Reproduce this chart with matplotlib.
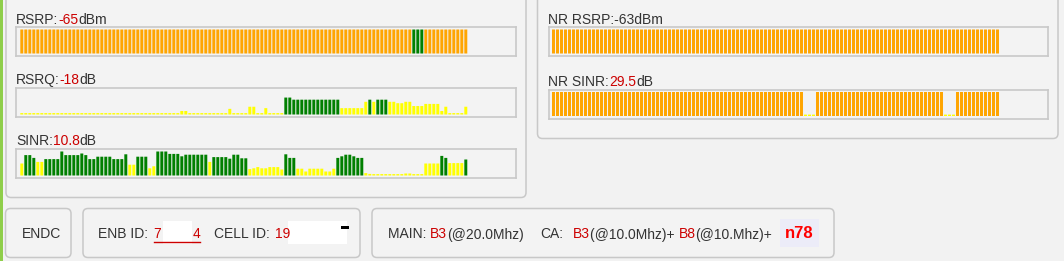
import numpy as np
import matplotlib
matplotlib.use('Agg')
import matplotlib.pyplot as plt
from matplotlib.patches import FancyBboxPatch, Rectangle

plt.rcParams['font.family'] = ['Liberation Sans', 'DejaVu Sans']

# ---- data (one value per sample) ----
RSRP = [-65] * 98 + [-60] * 3 + [-65] * 11
RSRQ = ([-19.5] * 32 + [-19.0] + [-19.5] * 7 + [-17.5] * 2 + [-19.5] * 10 + [-16.0]
        + [-19.5] * 4 + [-14.5] * 2 + [-19.5] * 2 + [-15.5] + [-19.5] * 3 + [-19.0]
        + [-8.0] * 2 + [-9.5] * 12 + [-15.5] * 6 + [-11.0] + [-9.5] + [-11.0]
        + [-9.5] * 3 + [-11.0] * 2 + [-12.0] * 2 + [-11.0] * 2 + [-14.0] * 3
        + [-12.5] * 4 + [-17.5] + [-14.5] + [-19.5] * 4 + [-14.5])
SINR = [15, 25.5, 25.5, 22, 17, 17, 20.5, 20.5, 20.5, 20.5,
        30, 25.5, 25.5, 25.5, 25.5, 27.5, 25.5, 20.5, 20.5, 23.5,
        23.5, 23.5, 23.5, 20.5, 20.5, 20.5, 26.5, 13.5, 13.5, 23.5,
        23.5, 23.5, 9, 11.5, 30, 30, 30, 27, 27, 27,
        24, 26, 26, 26, 26, 26, 26, 17, 23, 23,
        23, 23, 21, 26, 26, 21.5, 21.5, 8, 9, 10.5,
        9, 9, 10.5, 10.5, 10.5, 7.5, 26.5, 22, 22, 8.5,
        8.5, 5, 8.5, 8.5, 8.5, 8.5, 5, 5, 8.5, 22,
        24, 26, 26, 24, 22, 22, 3, 2, 1.2, 1.2,
        1.2, 1.2, 1.2, 1.2, 1.2, 1.2, 2.5, 2.5, 0.5, 0.5,
        0.5, 15, 15, 15, 15, 24.5, 22, 15.5, 15.5, 15.5,
        15.5, 20]
NR_RSRP = [-63] * 112
NR_SINR = [30] * 63 + [0.5] * 3 + [30] * 32 + [0.5] * 3 + [30] * 11

labels = {
    'rsrp': [('RSRP:', 'd'), ('-65', 'r'), ('dBm', 'd')],
    'rsrq': [('RSRQ:', 'd'), ('-18', 'r'), ('dB', 'd')],
    'sinr': [('SINR:', 'd'), ('10.8', 'r'), ('dB', 'd')],
    'nrrsrp': [('NR RSRP:-63dBm', 'd')],
    'nrsinr': [('NR SINR:', 'd'), ('29.5', 'r'), ('dB', 'd')],
}

W, H = 1064, 261
DARK = '#333333'
RED = '#cc0000'
ORANGE = '#ffa500'
GREEN = '#008000'
YELLOW = '#ffff00'
BORDER = '#c8c8c8'
PANEL = '#f3f3f3'
TC = {'d': DARK, 'r': RED}

fig = plt.figure(figsize=(W / 100, H / 100), dpi=100, facecolor='#f2f2f2')
bg = fig.add_axes([0, 0, 1, 1])
bg.set_xlim(0, W)
bg.set_ylim(H, 0)
bg.axis('off')
renderer = fig.canvas.get_renderer()


def panel(x0, y0, x1, y1, fc=PANEL):
    bg.add_patch(FancyBboxPatch((x0, y0), x1 - x0, y1 - y0,
                                boxstyle='round,pad=0,rounding_size=5',
                                fc=fc, ec=BORDER, lw=1.1))


def rich(x, y, parts, size=10, weight='normal'):
    for s, c in parts:
        t = bg.text(x, y, s, color=TC.get(c, c), fontsize=size, fontweight=weight,
                    ha='left', va='baseline')
        x += t.get_window_extent(renderer).width
    return x


def pick(v, rule):
    # rule: list of (threshold, colour), first threshold met wins
    for thr, c in rule:
        if v >= thr:
            return c
    return rule[-1][1]


def bar_box(x0, y0, x1, y1, vals, lo, hi, rule, xmin):
    ax = fig.add_axes([x0 / W, 1 - y1 / H, (x1 - x0) / W, (y1 - y0) / H])
    v = np.asarray(vals, float)
    h = np.clip(v, lo, hi) - lo
    # the web chart always keeps a 1px stub for the lowest samples
    h = np.maximum(h, (hi - lo) * 1.4 / 24)
    cols = [pick(a, rule) for a in v]
    bars = ax.bar(np.arange(len(v)), h, width=0.74, bottom=lo, color=cols, linewidth=0)
    for b in bars:
        b.set_snap(False)
    pad = (hi - lo) * 2.5 / 24
    # one sample slot is 4 px wide
    ax.set_xlim(xmin, xmin + (x1 - x0) / 4.0)
    ax.set_ylim(lo - pad, hi + pad)
    ax.set_facecolor(PANEL)
    ax.set_xticks([])
    ax.set_yticks([])
    for sp in ax.spines.values():
        sp.set_color(BORDER)
        sp.set_linewidth(1.2)
    return ax


# left green stripe
bg.add_patch(Rectangle((0, 0), 2.5, H, fc='#8fce4a', ec='none'))

# top panels
panel(6, -10, 526, 197.5)
panel(537.5, -10, 1058, 138.5)

rich(16, 23.5, labels['rsrp'])
bar_box(16, 27, 515.5, 56, RSRP, -115, -65, [(-64, GREEN), (-200, ORANGE)], -1.45)
rich(16, 84.2, labels['rsrq'])
bar_box(16, 88, 515.5, 117, RSRQ, -20, -3, [(-10, GREEN), (-100, YELLOW)], -1.45)
rich(16, 145.3, labels['sinr'])
bar_box(16, 149, 515.5, 178, SINR, 0, 30, [(18, GREEN), (-100, YELLOW)], -1.45)

rich(548.5, 23.8, labels['nrrsrp'])
bar_box(548.5, 27, 1047.5, 56, NR_RSRP, -115, -63, [(-200, ORANGE)], -1.25)
rich(548.5, 86.5, labels['nrsinr'])
bar_box(548.5, 89.5, 1047.5, 118.5, NR_SINR, 0, 30, [(20, ORANGE), (-100, YELLOW)], -1.25)

# bottom info row
panel(5.5, 208.5, 71, 257.5)
panel(83, 208.5, 360, 257.5)
panel(372, 208.5, 834, 257.5)

base = 238.5
rich(22, base, [('ENDC', 'd')])

rich(98.5, base, [('ENB ID:', 'd')])
rich(153.5, base, [('7', 'r')])
bg.plot([153.5, 199.5], [241.5, 241.5], color=RED, lw=1)
bg.add_patch(Rectangle((163, 221), 29, 23, fc='white', ec='none'))
rich(193, base, [('4', 'r')])
rich(214, base, [('CELL ID:', 'd')])
rich(275, base, [('19', 'r')])
bg.add_patch(Rectangle((288, 221), 59, 23, fc='white', ec='none'))
bg.add_patch(Rectangle((341, 226), 8, 3, fc='black', ec='none'))

rich(388, base, [('MAIN: ', 'd'), ('B3', 'r'), ('(@20.0Mhz)', 'd')])
rich(540, base, [('CA:', 'd')])
rich(573, base, [('B3', 'r'), ('(@10.0Mhz)+ ', 'd'), ('B8', 'r'), ('(@10.Mhz)+', 'd')])

bg.add_patch(Rectangle((780, 218.5), 39, 28, fc='#ececf8', ec='none'))
bg.text(799.5, 238, 'n78', color='#ff0000', fontsize=12, fontweight='bold',
        ha='center', va='baseline')

fig.savefig('out.png', dpi=100, facecolor=fig.get_facecolor())
